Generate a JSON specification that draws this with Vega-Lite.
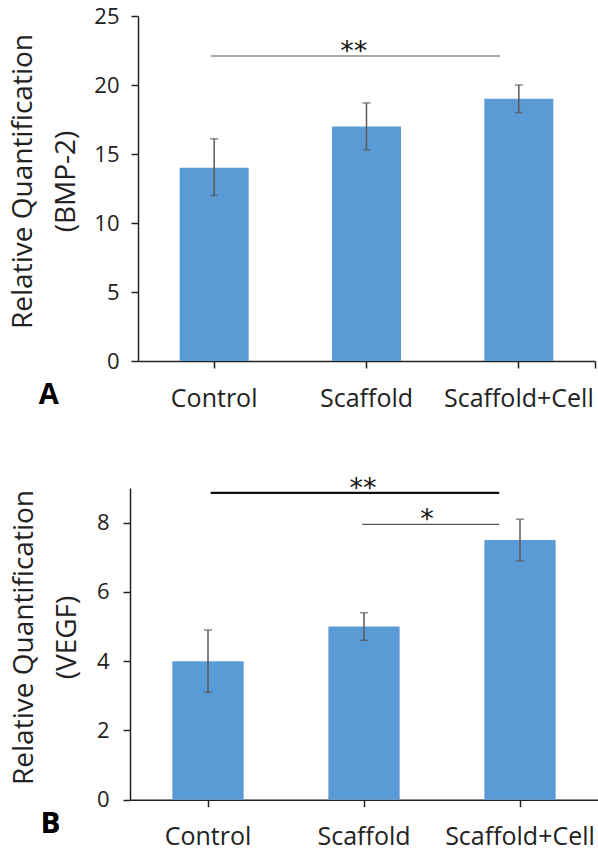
{
  "$schema": "https://vega.github.io/schema/vega-lite/v6.json",
  "padding": {"left": 9, "top": 5, "right": 0, "bottom": 0},
  "spacing": 63,
  "config": {
    "font": "Open Sans",
    "view": {"stroke": null},
    "scale": {"continuousPadding": 0},
    "axis": {"domainColor": "#222", "tickColor": "#222", "labelColor": "#222", "titleColor": "#222", "grid": false, "domainWidth": 1.5, "tickWidth": 1.5, "labelOverlap": false}
  },
  "datasets": {
    "bmp": [
      {"group": "Control", "value": 14, "lo": 12, "hi": 16.1},
      {"group": "Scaffold", "value": 17, "lo": 15.3, "hi": 18.7},
      {"group": "Scaffold+Cell", "value": 19, "lo": 18, "hi": 20}
    ],
    "vegf": [
      {"group": "Control", "value": 4, "lo": 3.1, "hi": 4.9},
      {"group": "Scaffold", "value": 5, "lo": 4.6, "hi": 5.4},
      {"group": "Scaffold+Cell", "value": 7.5, "lo": 6.9, "hi": 8.1}
    ],
    "sigA": [
      {"x1": 0.48, "x2": 2.375, "y": 22.1, "tx": 1.416, "label": "**"}
    ],
    "sigB": [
      {"x1": 0.517, "x2": 2.367, "y": 8.86, "tx": 1.493, "label": "**"},
      {"x1": 1.488, "x2": 2.367, "y": 7.95, "tx": 1.904, "label": "*"}
    ]
  },
  "vconcat": [
    {
      "width": 465,
      "height": 345,
      "resolve": {"scale": {"x": "independent"}},
      "layer": [
        {
          "data": {"name": "bmp"},
          "layer": [
            {
              "mark": {"type": "bar", "color": "#5B9BD5"},
              "encoding": {
                "x": {"field": "group", "type": "nominal", "sort": null,
                  "scale": {"range": [8, 465], "paddingInner": 0.547, "paddingOuter": 0.2735},
                  "axis": {"title": null, "labelAngle": 0, "labelFontSize": 25, "labelPadding": 18, "tickSize": 7}},
                "y": {"field": "value", "type": "quantitative", "scale": {"domain": [0, 25], "padding": 0, "nice": false},
                  "axis": {"values": [0, 5, 10, 15, 20, 25], "labelOverlap": false, "labelFlush": false, "title": ["Relative Quantification", "(BMP-2)"], "titleFontSize": 28, "titleFontWeight": "normal", "titleLineHeight": 43, "titlePadding": 13, "titleY": 165, "labelFontSize": 22, "labelPadding": 12, "tickSize": 7, "offset": -8}}
              }
            },
            {
              "mark": {"type": "rule", "color": "#595959", "strokeWidth": 1.5},
              "encoding": {
                "x": {"field": "group", "type": "nominal", "sort": null},
                "y": {"field": "lo", "type": "quantitative"},
                "y2": {"field": "hi"}
              }
            },
            {
              "mark": {"type": "tick", "orient": "horizontal", "size": 8, "thickness": 1.5, "color": "#595959"},
              "encoding": {
                "x": {"field": "group", "type": "nominal", "sort": null},
                "y": {"field": "lo", "type": "quantitative"}
              }
            },
            {
              "mark": {"type": "tick", "orient": "horizontal", "size": 8, "thickness": 1.5, "color": "#595959"},
              "encoding": {
                "x": {"field": "group", "type": "nominal", "sort": null},
                "y": {"field": "hi", "type": "quantitative"}
              }
            }
          ]
        },
        {
          "data": {"name": "sigA"},
          "layer": [
            {
              "mark": {"type": "rule", "color": "#555", "strokeWidth": 1.2},
              "encoding": {
                "x": {"field": "x1", "type": "quantitative", "scale": {"domain": [0, 3], "range": [8, 465]},
                  "axis": {"orient": "bottom", "values": [3], "labels": false, "domain": false, "ticks": true, "tickSize": 7, "title": null}},
                "x2": {"field": "x2"},
                "y": {"field": "y", "type": "quantitative"}
              }
            },
            {
              "mark": {"type": "text", "font": "DejaVu Sans", "fontSize": 27, "dy": 4, "baseline": "alphabetic", "color": "#111"},
              "encoding": {
                "x": {"field": "tx", "type": "quantitative"},
                "y": {"field": "y", "type": "quantitative"},
                "text": {"field": "label"}
              }
            },
            {
              "mark": {"type": "text", "text": "A", "fontSize": 29, "fontWeight": "bold", "color": "#000", "align": "left", "baseline": "alphabetic"},
              "encoding": {
                "x": {"datum": -0.652, "type": "quantitative"},
                "y": {"datum": -3.12, "type": "quantitative"}
              }
            }
          ]
        }
      ]
    },
    {
      "width": 468,
      "height": 311.7,
      "resolve": {"scale": {"x": "independent"}},
      "layer": [
        {
          "data": {"name": "vegf"},
          "layer": [
            {
              "mark": {"type": "bar", "color": "#5B9BD5"},
              "encoding": {
                "x": {"field": "group", "type": "nominal", "sort": null,
                  "scale": {"paddingInner": 0.543, "paddingOuter": 0.2715},
                  "axis": {"title": null, "labelAngle": 0, "labelFontSize": 25, "labelPadding": 18, "tickSize": 7}},
                "y": {"field": "value", "type": "quantitative", "scale": {"domain": [0, 9], "padding": 0, "nice": false},
                  "axis": {"values": [0, 1, 2, 3, 4, 5, 6, 7, 8, 9], "labelOverlap": false, "labelFlush": false, "title": ["Relative Quantification", "(VEGF)"], "titleFontSize": 28, "titleFontWeight": "normal", "titleLineHeight": 43, "titlePadding": 15, "titleY": 149, "labelFontSize": 22, "labelPadding": 14, "tickSize": 7}}
              }
            },
            {
              "mark": {"type": "rule", "color": "#595959", "strokeWidth": 1.5},
              "encoding": {
                "x": {"field": "group", "type": "nominal", "sort": null},
                "y": {"field": "lo", "type": "quantitative"},
                "y2": {"field": "hi"}
              }
            },
            {
              "mark": {"type": "tick", "orient": "horizontal", "size": 8, "thickness": 1.5, "color": "#595959"},
              "encoding": {
                "x": {"field": "group", "type": "nominal", "sort": null},
                "y": {"field": "lo", "type": "quantitative"}
              }
            },
            {
              "mark": {"type": "tick", "orient": "horizontal", "size": 8, "thickness": 1.5, "color": "#595959"},
              "encoding": {
                "x": {"field": "group", "type": "nominal", "sort": null},
                "y": {"field": "hi", "type": "quantitative"}
              }
            }
          ]
        },
        {
          "data": {"name": "sigB"},
          "layer": [
            {
              "transform": [{"filter": "datum.label == '**'"}],
              "mark": {"type": "rule", "color": "#111", "strokeWidth": 2.2},
              "encoding": {
                "x": {"field": "x1", "type": "quantitative", "scale": {"domain": [0, 3]}, "axis": null},
                "x2": {"field": "x2"},
                "y": {"field": "y", "type": "quantitative"}
              }
            },
            {
              "transform": [{"filter": "datum.label == '*'"}],
              "mark": {"type": "rule", "color": "#555", "strokeWidth": 1.2},
              "encoding": {
                "x": {"field": "x1", "type": "quantitative"},
                "x2": {"field": "x2"},
                "y": {"field": "y", "type": "quantitative"}
              }
            },
            {
              "mark": {"type": "text", "font": "DejaVu Sans", "fontSize": 27, "dy": 4, "baseline": "alphabetic", "color": "#111"},
              "encoding": {
                "x": {"field": "tx", "type": "quantitative"},
                "y": {"field": "y", "type": "quantitative"},
                "text": {"field": "label"}
              }
            },
            {
              "mark": {"type": "text", "text": "B", "fontSize": 29, "fontWeight": "bold", "color": "#000", "align": "left", "baseline": "alphabetic"},
              "encoding": {
                "x": {"datum": -0.572, "type": "quantitative"},
                "y": {"datum": -0.953, "type": "quantitative"}
              }
            }
          ]
        }
      ]
    }
  ]
}
